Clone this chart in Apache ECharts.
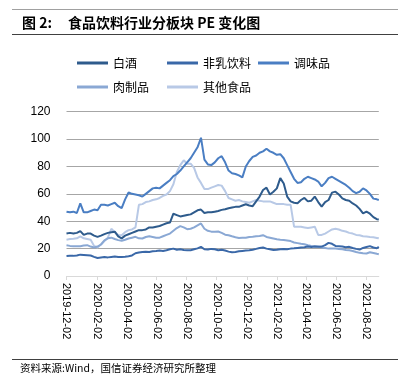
<!DOCTYPE html>
<html><head><meta charset="utf-8">
<script src="https://cdn.jsdelivr.net/npm/echarts@6/dist/echarts.min.js"></script>
<style>html,body{margin:0;padding:0;background:#fff}#c{width:398px;height:385px}</style>
</head><body><div id="c"></div>
<script>
// Weekly sample dates start 2019-12-02 (every 7 days), last value on 2021-08-27
var startDate = '2019-12-02';
var endDate = '2021-08-27';
var seriesNames = ['白酒', '非乳饮料', '调味品', '肉制品', '其他食品'];
var baijiu = [31,31.5,31,31.5,32.8,30,31,31,29.5,28.6,29.5,30.6,31.5,32,32.4,29,27.5,29.5,30.5,31.5,32.5,33.5,33.5,34,35.5,35.5,36,36.5,37.5,38.5,39,45.5,44.5,43.5,44,44.5,45,46.5,48,48.5,46,46.5,46.5,47,47.5,48.3,48.7,49.5,50,50.5,50.5,51.5,52.4,51.5,51,54.5,58,62.8,64.5,59.5,61.5,64,71.5,67.5,58,54.5,53.5,53.2,55.5,57,54.5,55,58,54,50.6,54,55.5,60.9,61.6,59.5,56.7,55.5,55,53,51.5,49,45.7,47,45.5,43,41.5,41.3];
var feiru = [14.6,14.8,14.7,15,15.6,15.4,15.2,15,14,13.2,13.5,13.8,13.6,13.9,14.2,13.8,13.9,14,14.4,15,16.6,17.2,17.6,17.8,17.6,18.1,18.3,18.6,18.3,18.8,19.5,20,19.2,19.6,19,18.8,18.8,19.5,20.2,21.3,19.5,19.3,19.8,19.5,18.8,19.2,18.6,17.8,17.3,17.6,18,18.3,18.6,18.8,19.2,19.8,20.5,20.8,20,19.5,19,19.2,19.5,19.8,19.6,20,20.2,20.5,20.8,21,21.5,21.2,21.5,21.3,21.5,22.5,24.2,23.5,22,21.8,21.5,21,21.3,20.5,19.8,19.3,20.5,21.2,21.8,20.8,20.3,21.3];
var tiaowei = [47,46.5,47,46,53,46.5,46.5,47.5,48.5,48,52,52,51.5,52.5,53.5,51,49.5,56,61,60,59.5,59,58,60,62,64,64.5,64,66,68,70,73,74.5,77,80,83,86,90,94,101,85,81.5,81,83,86,87.5,83,77,75,74.5,73.5,72,80,84,87,88,90,91,93,91,90,88.5,89,86,81,76,71,68,68.5,71,72.5,71.5,70.5,69,65.5,68,71.5,72.5,71,69.5,68,66.5,64.5,62,60.5,61.5,64,62.5,60,56.5,56,55.5];
var rouzhi = [22.5,22,21.8,21.8,21.8,22.3,22.5,21.5,20.8,21.5,23,26,27.5,28,27,26.2,25.7,26.5,27.4,28,28.6,27.5,27.4,28.5,29,28.5,28,28,29,30,31,33,35,36.4,35.5,34.2,34.5,35.5,37,38.4,34.5,33,32.4,32.3,32.5,31.5,30.2,29.8,29,28.3,27.8,28,28,28.5,28.6,29,29.2,29.8,28.5,28,27.4,26.8,26.5,26.3,26,25.5,24.5,24,23.5,23.2,22.5,22,21.8,21.5,20.8,20.5,20,20,20,19.8,19.5,19,18.8,18.3,17.5,16.9,16.6,16.4,17.3,16.8,16.2,15.9];
var qita = [26.5,27,27.2,27.5,29,27.5,27,26.5,22,20.8,23,25.5,28,34.5,32,30,29.8,32,33.5,34,35.5,52,52.5,54,54.5,55.5,56,57,58.5,59.5,62,67,76,81,84.5,82,82,79,72,68,63.5,63.5,64.5,65.5,66.5,66,62,57,56,55,55.5,54.5,54,53.5,54.5,55.5,55,54.5,54.5,54.5,53.5,52.5,52.5,52.5,52,52,36,36,36,35.5,35,35.5,36,30,30,31,32.5,34,34.5,34,33,32.5,31.5,31,30,29.8,29,28.8,28.5,28.3,27.8,27.5];
var yTicks = [0, 20, 40, 60, 80, 100, 120];
var colors = ['#2e5b8c', '#3a68a8', '#4a7ec3', '#8aa8d4', '#b8c9e6'];

function fmt(d) {
  var m = d.getUTCMonth() + 1, dd = d.getUTCDate();
  return d.getUTCFullYear() + '-' + (m < 10 ? '0' + m : m) + '-' + (dd < 10 ? '0' + dd : dd);
}
var days = [];
var t0 = Date.parse(startDate + 'T00:00:00Z'), t1 = Date.parse(endDate + 'T00:00:00Z');
for (var t = t0; t <= t1; t += 86400000) days.push(fmt(new Date(t)));
var sampleDates = [];
for (var i = 0; i < baijiu.length - 1; i++) sampleDates.push(fmt(new Date(t0 + i * 7 * 86400000)));
sampleDates.push(endDate);

function pairs(arr) { return arr.map(function (v, i) { return [sampleDates[i], v]; }); }
var allData = [baijiu, feiru, tiaowei, rouzhi, qita];

function showLabel(idx, val) {
  var p = val.split('-');
  return p[2] === '02' && (+p[1]) % 2 === 0;
}

var chart = echarts.init(document.getElementById('c'), null, { renderer: 'canvas' });
var legendPos = [[77, 56], [167, 56], [258, 56], [77, 80], [167, 80]];
var legends = seriesNames.map(function (n, i) {
  return {
    data: [n], left: legendPos[i][0], top: legendPos[i][1], padding: 0,
    icon: 'rect', itemWidth: 31, itemHeight: 3,
    textStyle: { fontSize: 12, color: '#000', fontFamily: 'Noto Sans CJK SC', lineHeight: 14 },
    selectedMode: false
  };
});
chart.setOption({
  animation: false,
  color: colors,
  legend: legends,
  grid: { left: 66.5, right: 19.2, top: 111.7, bottom: 109, containLabel: false },
  xAxis: {
    type: 'category', data: days, boundaryGap: false,
    axisLine: { lineStyle: { color: '#d9d9d9', width: 1 } },
    axisTick: { show: true, interval: showLabel, length: 4, lineStyle: { color: '#d9d9d9' } },
    axisLabel: { interval: showLabel, rotate: -90, margin: 7, fontSize: 11, color: '#000', fontFamily: 'Liberation Sans' },
    splitLine: { show: false }
  },
  yAxis: {
    type: 'value', min: yTicks[0], max: yTicks[yTicks.length - 1], interval: 20,
    axisLine: { show: false }, axisTick: { show: false },
    axisLabel: { margin: 16, fontSize: 12, color: '#000', fontFamily: 'Liberation Sans' },
    splitLine: { lineStyle: { color: '#a6a6a6', width: 1 } }
  },
  series: seriesNames.map(function (n, i) {
    return { name: n, type: 'line', data: pairs(allData[i]), showSymbol: false, symbol: 'none',
      lineStyle: { width: 2, color: colors[i] }, itemStyle: { color: colors[i] }, z: 10 - i };
  }),
  graphic: [
    { type: 'line', shape: { x1: 12, y1: 9.5, x2: 398, y2: 9.5 }, style: { stroke: '#a0a0a0', lineWidth: 1 } },
    { type: 'line', shape: { x1: 12, y1: 34.5, x2: 398, y2: 34.5 }, style: { stroke: '#404040', lineWidth: 1 } },
    { type: 'text', left: 22, top: 16, style: { text: '图 2:', fontSize: 14, fontWeight: 'bold', fill: '#000', fontFamily: 'Noto Sans CJK SC' } },
    { type: 'text', left: 68, top: 16, style: { text: '食品饮料行业分板块 PE 变化图', fontSize: 14, fontWeight: 'bold', fill: '#000', fontFamily: 'Noto Sans CJK SC' } },
    { type: 'line', shape: { x1: 12, y1: 359.5, x2: 398, y2: 359.5 }, style: { stroke: '#404040', lineWidth: 1 } },
    { type: 'text', left: 20, top: 363, style: { text: '资料来源:Wind，国信证券经济研究所整理', fontSize: 10.5, fill: '#000', fontFamily: 'Noto Sans CJK SC' } }
  ]
});
</script></body></html>
